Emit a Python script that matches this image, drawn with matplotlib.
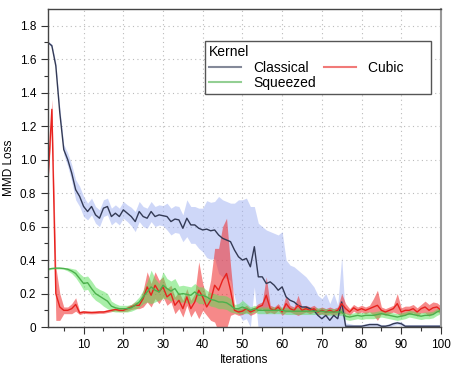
import numpy as np
import matplotlib
matplotlib.use('Agg')
import matplotlib.pyplot as plt
from matplotlib.lines import Line2D

plt.rcParams['font.family'] = ['Liberation Sans', 'DejaVu Sans']

iterations = np.arange(1, 101)

classical_mean = [
    1.70, 1.68, 1.56, 1.28, 1.06, 1.00, 0.92, 0.82, 0.78, 0.72,
    0.69, 0.72, 0.67, 0.65, 0.71, 0.72, 0.66, 0.68, 0.66, 0.70,
    0.68, 0.66, 0.63, 0.69, 0.66, 0.65, 0.69, 0.66, 0.67, 0.665,
    0.66, 0.63, 0.645, 0.64, 0.59, 0.65, 0.61, 0.61, 0.59, 0.58,
    0.585, 0.575, 0.58, 0.55, 0.53, 0.52, 0.51, 0.46, 0.42, 0.40,
    0.41, 0.36, 0.48, 0.30, 0.30, 0.26, 0.27, 0.25, 0.22, 0.24,
    0.18, 0.16, 0.15, 0.13, 0.12, 0.12, 0.11, 0.10, 0.07, 0.05,
    0.07, 0.04, 0.07, 0.05, 0.15, 0.005, 0.005, 0.005, 0.005, 0.005,
    0.01, 0.015, 0.015, 0.015, 0.005, 0.005, 0.01, 0.02, 0.025, 0.02,
    0.005, 0.005, 0.005, 0.005, 0.005, 0.005, 0.005, 0.005, 0.005, 0.005,
]
classical_sd = [
    0.005, 0.01, 0.02, 0.03, 0.03, 0.04, 0.05, 0.06, 0.06, 0.06,
    0.05, 0.05, 0.05, 0.05, 0.05, 0.05, 0.05, 0.05, 0.05, 0.05,
    0.05, 0.055, 0.06, 0.06, 0.06, 0.06, 0.06, 0.06, 0.06, 0.06,
    0.08, 0.08, 0.08, 0.08, 0.08, 0.11, 0.11, 0.11, 0.12, 0.13,
    0.17, 0.17, 0.17, 0.23, 0.23, 0.23, 0.23, 0.28, 0.34, 0.36,
    0.36, 0.36, 0.24, 0.32, 0.30, 0.32, 0.30, 0.31, 0.33, 0.33,
    0.22, 0.21, 0.21, 0.21, 0.20, 0.18, 0.16, 0.14, 0.12, 0.12,
    0.13, 0.10, 0.13, 0.08, 0.27, 0.02, 0.015, 0.01, 0.01, 0.01,
    0.01, 0.01, 0.01, 0.01, 0.01, 0.01, 0.01, 0.01, 0.01, 0.01,
    0.01, 0.01, 0.01, 0.01, 0.01, 0.01, 0.01, 0.01, 0.01, 0.01,
]

cubic_mean = [
    0.87, 1.30, 0.20, 0.12, 0.10, 0.10, 0.11, 0.135, 0.085, 0.09,
    0.088, 0.087, 0.088, 0.09, 0.09, 0.095, 0.10, 0.105, 0.10, 0.10,
    0.11, 0.12, 0.13, 0.13, 0.17, 0.24, 0.19, 0.25, 0.21, 0.24,
    0.18, 0.20, 0.13, 0.16, 0.11, 0.18, 0.11, 0.15, 0.22, 0.18,
    0.12, 0.16, 0.25, 0.22, 0.28, 0.32, 0.22, 0.10, 0.09, 0.095,
    0.11, 0.09, 0.10, 0.12, 0.13, 0.19, 0.11, 0.10, 0.12, 0.09,
    0.14, 0.11, 0.10, 0.13, 0.10, 0.11, 0.10, 0.11, 0.09, 0.10,
    0.09, 0.10, 0.09, 0.10, 0.14, 0.11, 0.09, 0.115, 0.10, 0.11,
    0.10, 0.11, 0.12, 0.13, 0.10, 0.09, 0.10, 0.11, 0.14, 0.09,
    0.10, 0.10, 0.11, 0.09, 0.11, 0.12, 0.10, 0.115, 0.12, 0.10,
]
cubic_sd = [
    0.03, 0.06, 0.16, 0.08, 0.02, 0.02, 0.03, 0.04, 0.01, 0.008,
    0.008, 0.008, 0.008, 0.008, 0.008, 0.008, 0.008, 0.008, 0.008, 0.008,
    0.015, 0.015, 0.02, 0.02, 0.05, 0.09, 0.07, 0.08, 0.07, 0.06,
    0.05, 0.05, 0.05, 0.05, 0.05, 0.05, 0.05, 0.05, 0.17, 0.08,
    0.05, 0.12, 0.22, 0.25, 0.32, 0.33, 0.15, 0.02, 0.02, 0.02,
    0.02, 0.02, 0.02, 0.02, 0.02, 0.11, 0.02, 0.02, 0.02, 0.02,
    0.05, 0.02, 0.02, 0.06, 0.02, 0.02, 0.02, 0.02, 0.02, 0.02,
    0.02, 0.02, 0.02, 0.02, 0.06, 0.03, 0.02, 0.02, 0.02, 0.02,
    0.02, 0.02, 0.05, 0.09, 0.02, 0.02, 0.02, 0.02, 0.06, 0.025,
    0.025, 0.025, 0.025, 0.025, 0.025, 0.035, 0.035, 0.035, 0.025, 0.025,
]

squeezed_mean = [
    0.345, 0.35, 0.352, 0.352, 0.35, 0.345, 0.335, 0.32, 0.29, 0.26,
    0.265, 0.23, 0.20, 0.185, 0.17, 0.155, 0.125, 0.115, 0.11, 0.11,
    0.11, 0.115, 0.13, 0.15, 0.18, 0.21, 0.24, 0.22, 0.21, 0.25,
    0.23, 0.215, 0.23, 0.195, 0.20, 0.195, 0.19, 0.21, 0.19, 0.19,
    0.18, 0.165, 0.16, 0.15, 0.15, 0.145, 0.13, 0.11, 0.11, 0.12,
    0.11, 0.10, 0.11, 0.10, 0.10, 0.10, 0.10, 0.10, 0.10, 0.10,
    0.095, 0.095, 0.095, 0.095, 0.095, 0.095, 0.095, 0.095, 0.095, 0.095,
    0.09, 0.09, 0.09, 0.09, 0.09, 0.065, 0.06, 0.065, 0.07, 0.065,
    0.07, 0.07, 0.07, 0.075, 0.08, 0.075, 0.07, 0.065, 0.06, 0.065,
    0.07, 0.08, 0.075, 0.07, 0.065, 0.07, 0.07, 0.075, 0.09, 0.10,
]
squeezed_sd = [
    0.005, 0.005, 0.005, 0.005, 0.005, 0.01, 0.015, 0.025, 0.03, 0.04,
    0.04, 0.045, 0.04, 0.04, 0.045, 0.045, 0.03, 0.025, 0.02, 0.02,
    0.02, 0.02, 0.025, 0.03, 0.04, 0.06, 0.10, 0.07, 0.05, 0.08,
    0.06, 0.06, 0.06, 0.05, 0.05, 0.05, 0.05, 0.05, 0.05, 0.05,
    0.04, 0.04, 0.04, 0.04, 0.04, 0.04, 0.04, 0.025, 0.03, 0.04,
    0.03, 0.02, 0.02, 0.02, 0.02, 0.02, 0.02, 0.02, 0.02, 0.02,
    0.02, 0.02, 0.02, 0.02, 0.02, 0.02, 0.02, 0.02, 0.02, 0.02,
    0.02, 0.02, 0.02, 0.02, 0.02, 0.02, 0.02, 0.02, 0.02, 0.02,
    0.02, 0.02, 0.02, 0.02, 0.02, 0.02, 0.02, 0.02, 0.02, 0.02,
    0.02, 0.02, 0.02, 0.02, 0.02, 0.02, 0.02, 0.02, 0.02, 0.02,
]

kernels = ['Classical', 'Cubic', 'Squeezed']
line_colors = ['#333a55', '#e8221e', '#4cb04c']
fill_colors = ['#9fb0f2', '#f02828', '#55e055']
fill_alphas = [0.5, 0.55, 0.5]

xticks = [10, 20, 30, 40, 50, 60, 70, 80, 90, 100]
yticks = [0, 0.2, 0.4, 0.6, 0.8, 1.0, 1.2, 1.4, 1.6, 1.8]
ytick_labels = ['0', '0.2', '0.4', '0.6', '0.8', '1.0', '1.2', '1.4', '1.6', '1.8']

fig = plt.figure(figsize=(4.56, 3.70), dpi=100)
ax = fig.add_axes([0.105, 0.116, 0.862, 0.860])

series = [(classical_mean, classical_sd), (cubic_mean, cubic_sd), (squeezed_mean, squeezed_sd)]
for (m, s), fc, fa in zip(series, fill_colors, fill_alphas):
    m = np.array(m)
    s = np.array(s)
    ax.fill_between(iterations, m - s, m + s, color=fc, alpha=fa, linewidth=0)
for (m, s), lc in zip(series, line_colors):
    ax.plot(iterations, m, color=lc, linewidth=1.0)

ax.set_xlim(1, 100)
ax.set_ylim(0, 1.9)
ax.set_xticks(xticks)
ax.set_xticks(np.arange(5, 100, 5), minor=True)
ax.set_yticks(yticks)
ax.set_yticklabels(ytick_labels)
ax.set_yticks(np.arange(0.1, 1.9, 0.2), minor=True)
ax.tick_params(axis='both', which='major', direction='out', length=5, width=0.8,
               labelsize=8.5, colors='#333333', labelcolor='black')
ax.tick_params(axis='both', which='minor', direction='out', length=3, width=0.8, colors='#333333')
ax.grid(True, which='major', linestyle=(0, (1, 3)), color='#bbbbbb', linewidth=0.8)
ax.set_axisbelow(True)

for side in ['left', 'bottom', 'top']:
    ax.spines[side].set_color('#444444')
    ax.spines[side].set_linewidth(1.0)
ax.spines['right'].set_color('#999999')
ax.spines['right'].set_linewidth(1.5)

ax.set_xlabel('Iterations', fontsize=8.5, labelpad=2)
ax.set_ylabel('MMD Loss', fontsize=8.5, labelpad=3)

# legend is filled column by column: Classical / Squeezed, then Cubic
order = [0, 2, 1]
handles = [Line2D([], [], color=line_colors[k], linewidth=1.5, alpha=0.6) for k in order]
labels = [kernels[k] for k in order]
labels[2] = labels[2] + '      '  # the original box leaves room after "Cubic"
leg = ax.legend(handles, labels, title='Kernel', ncol=2, loc='upper left',
                bbox_to_anchor=(0.40, 0.90), borderaxespad=0, fontsize=10, title_fontsize=10,
                frameon=True, fancybox=False, edgecolor='#555555', framealpha=1,
                handlelength=2.3, columnspacing=0.6, labelspacing=0.12,
                borderpad=0.3, alignment='left', handletextpad=0.85)
leg.get_frame().set_linewidth(1.0)

fig.savefig('out.png', dpi=100)
